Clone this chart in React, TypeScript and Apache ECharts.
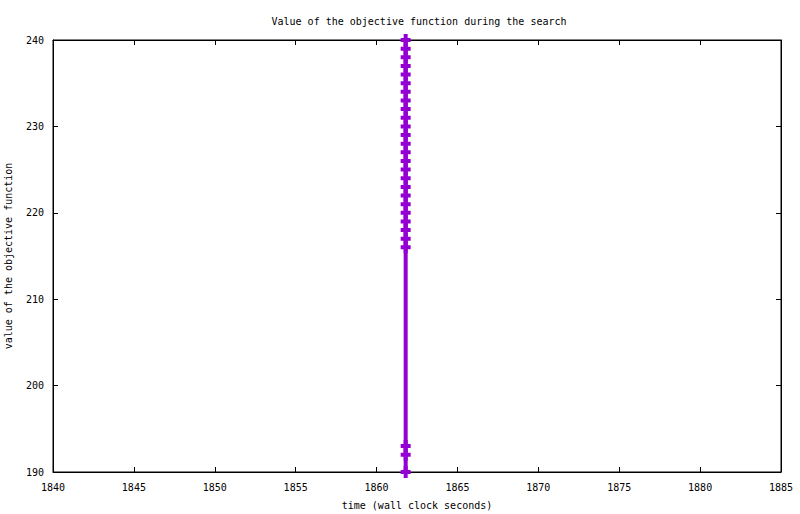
import React, { useEffect, useRef } from "react";
import * as echarts from "echarts";

const title = "Value of the objective function during the search";
const xName = "time (wall clock seconds)";
const yName = "value of the objective function";
const times = [
  1861.8, 1861.8, 1861.8, 1861.8, 1861.8, 1861.8, 1861.8, 1861.8, 1861.8, 1861.8,
  1861.8, 1861.8, 1861.8, 1861.8, 1861.8, 1861.8, 1861.8, 1861.8, 1861.8, 1861.8,
  1861.8, 1861.8, 1861.8, 1861.8, 1861.8, 1861.8, 1861.8, 1861.8,
];
const values = [
  240, 239, 238, 237, 236, 235, 234, 233, 232, 231, 230, 229, 228, 227, 226, 225,
  224, 223, 222, 221, 220, 219, 218, 217, 216, 193, 192, 190,
];
const xMin = 1840, xMax = 1885, xStep = 5;
const yMin = 190, yMax = 240, yStep = 10;

const FONT = "DejaVu Sans Mono";
const COLOR = "#9400D3";

export default function App() {
  const ref = useRef<HTMLDivElement>(null);
  useEffect(() => {
    document.body.style.margin = "0";
    const chart = echarts.init(ref.current!, null, { renderer: "svg" });
    const axisCommon = {
      axisLine: { show: true, lineStyle: { color: "#000", width: 1 } },
      axisTick: { show: true, inside: true, length: 5, lineStyle: { color: "#000", width: 1 } },
      splitLine: { show: false },
    };
    const data = times.map((t, i) => [t, values[i]]);
    chart.setOption({
      animation: false,
      backgroundColor: "#fff",
      title: {
        text: title,
        left: 414,
        top: 11,
        textAlign: "center",
        textStyle: { fontFamily: FONT, fontSize: 10, fontWeight: "normal", color: "#000" },
      },
      grid: {
        left: 53, top: 40, width: 728, height: 432, show: true,
        borderColor: "#000", borderWidth: 1, backgroundColor: "transparent",
        containLabel: false, outerBoundsMode: "none",
      },
      xAxis: [
        {
          type: "value", min: xMin, max: xMax, interval: xStep, position: "bottom",
          ...axisCommon,
          axisLabel: { fontFamily: FONT, fontSize: 10, color: "#000", margin: 10, formatter: (v: number) => String(v) },
          name: xName, nameLocation: "middle", nameGap: 28,
          nameTextStyle: { fontFamily: FONT, fontSize: 10, color: "#000" },
        },
        {
          type: "value", min: xMin, max: xMax, interval: xStep, position: "top",
          ...axisCommon, axisLabel: { show: false },
        },
      ],
      yAxis: [
        {
          type: "value", min: yMin, max: yMax, interval: yStep, position: "left",
          ...axisCommon,
          axisLabel: { fontFamily: FONT, fontSize: 10, color: "#000", margin: 9, formatter: (v: number) => String(v) },
          name: yName, nameLocation: "middle", nameGap: 40,
          nameTextStyle: { fontFamily: FONT, fontSize: 10, color: "#000" },
        },
        {
          type: "value", min: yMin, max: yMax, interval: yStep, position: "right",
          ...axisCommon, axisLabel: { show: false },
        },
      ],
      series: [
        {
          type: "line",
          data,
          xAxisIndex: 0,
          yAxisIndex: 0,
          symbol: "path://M0,4h10v4h-10z M3,0h4v12h-4z",
          symbolSize: [10, 12],
          showAllSymbol: true,
          lineStyle: { color: COLOR, width: 4 },
          itemStyle: { color: COLOR },
          clip: false,
        },
      ],
    });
    return () => chart.dispose();
  }, []);
  return <div ref={ref} style={{ width: 800, height: 514 }} />;
}
